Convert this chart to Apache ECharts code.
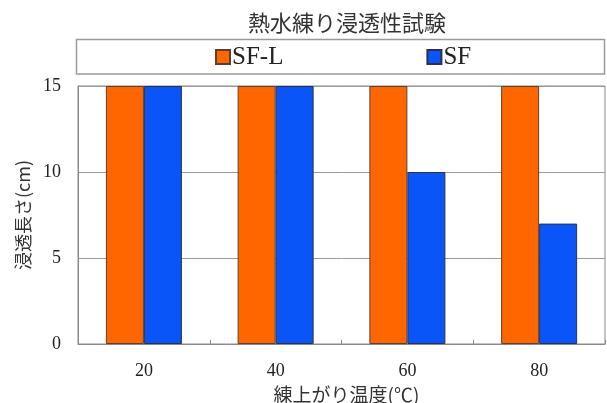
<!DOCTYPE html>
<html>
<head>
<meta charset="utf-8">
<script src="https://cdn.jsdelivr.net/npm/echarts@6/dist/echarts.min.js"></script>
<style>
  html, body { margin: 0; padding: 0; background: #fff; }
  #chart { width: 607px; height: 403px; }
</style>
</head>
<body>
<div id="chart"></div>
<script>
// Mixing temperature (°C) categories
const categories = ['20', '40', '60', '80'];
// Penetration length (cm) per series
const sfLValues = [15, 15, 15, 15];
const sfValues = [15, 15, 10, 7];
const seriesNames = ['SF-L', 'SF'];
const chartTitle = '熱水練り浸透性試験';
const xAxisTitle = '練上がり温度(℃)';
const yAxisTitle = '浸透長さ(cm)';

const cjkFont = '"Noto Sans CJK JP", "Noto Sans", sans-serif';
const serifFont = '"Liberation Serif", "DejaVu Serif", serif';

const chart = echarts.init(document.getElementById('chart'), null, { renderer: 'canvas' });

chart.setOption({
  animation: false,
  backgroundColor: '#ffffff',
  graphic: [
    {
      type: 'text',
      left: 248,
      top: 12,
      style: { text: chartTitle, font: '22px ' + cjkFont, fill: '#333333' }
    },
    {
      type: 'rect',
      shape: { x: 76.5, y: 39.5, width: 528, height: 34.5 },
      style: { fill: 'none', stroke: '#9a9a9a', lineWidth: 1.5 },
      z: -1
    }
  ],
  legend: {
    data: seriesNames,
    left: 215,
    top: 44,
    padding: 0,
    itemWidth: 14,
    itemHeight: 14,
    itemGap: 143,
    icon: 'rect',
    textStyle: { fontFamily: serifFont, fontSize: 25, color: '#222222', padding: [0, 0, 0, -3], lineHeight: 26 }
  },
  grid: {
    left: 78,
    right: 2,
    top: 86,
    bottom: 59,
    outerBoundsMode: 'none',
    show: true,
    borderColor: '#8a8a8a',
    borderWidth: 1,
    backgroundColor: 'transparent'
  },
  xAxis: {
    type: 'category',
    data: categories,
    name: xAxisTitle,
    nameLocation: 'middle',
    nameGap: 41,
    nameTextStyle: { fontFamily: cjkFont, fontSize: 19, color: '#333333', padding: [0, 0, 0, 10] },
    axisLine: { lineStyle: { color: '#8a8a8a', width: 1 } },
    axisTick: { show: true, inside: true, length: 4, lineStyle: { color: '#8a8a8a' } },
    axisLabel: { fontFamily: serifFont, fontSize: 18, color: '#222222', margin: 18 }
  },
  yAxis: {
    type: 'value',
    min: 0,
    max: 15,
    interval: 5,
    name: yAxisTitle,
    nameLocation: 'middle',
    nameGap: 43,
    nameTextStyle: { fontFamily: cjkFont, fontSize: 18, color: '#333333' },
    axisLine: { show: true, lineStyle: { color: '#8a8a8a', width: 1 } },
    axisTick: { show: false },
    axisLabel: { fontFamily: serifFont, fontSize: 18, color: '#222222', margin: 17 },
    splitLine: { show: true, lineStyle: { color: '#9a9a9a', width: 1 } }
  },
  series: [
    {
      name: seriesNames[0],
      type: 'bar',
      data: sfLValues,
      barWidth: 38,
      barGap: '0%',
      itemStyle: { color: '#FF6600', borderColor: '#5a4030', borderWidth: 1 }
    },
    {
      name: seriesNames[1],
      type: 'bar',
      data: sfValues,
      barWidth: 38,
      itemStyle: { color: '#0A55F8', borderColor: '#2a3050', borderWidth: 1 }
    }
  ]
});
</script>
</body>
</html>
